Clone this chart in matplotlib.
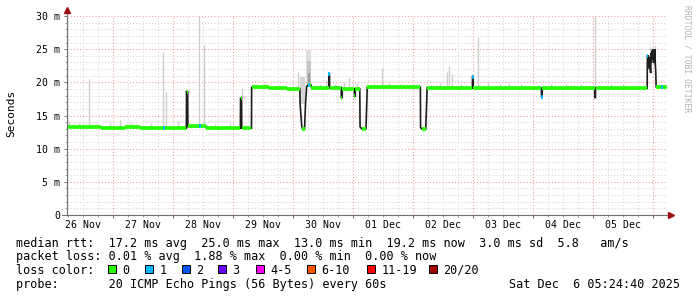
import numpy as np
import matplotlib
matplotlib.use("Agg")
import matplotlib.pyplot as plt
from matplotlib.collections import LineCollection
from matplotlib.patches import Rectangle

W, H = 697, 297
MONO = 'DejaVu Sans Mono'

# time axis: days since 26 Nov 00:00, graph covers 10 days ending Sat Dec 6 05:24:40
T0, T1 = 0.2255, 10.2255

day_labels = ['26 Nov', '27 Nov', '28 Nov', '29 Nov', '30 Nov',
              '01 Dec', '02 Dec', '03 Dec', '04 Dec', '05 Dec']
y_ticks = [0, 5, 10, 15, 20, 25, 30]
y_tick_labels = ['0', '5 m', '10 m', '15 m', '20 m', '25 m', '30 m']

# median rtt in ms (breakpoints)
med_t = [0.2255, 0.80, 0.80, 1.20, 1.20, 1.45, 1.45, 2.215, 2.218, 2.236, 2.240,
         2.55, 2.55, 3.115, 3.118, 3.135, 3.138, 3.30, 3.303, 3.60, 3.60, 3.90,
         3.90, 4.105, 4.110, 4.137, 4.150, 4.185, 4.200, 4.220, 4.247, 4.292,
         4.300, 4.588, 4.590, 4.600, 4.602, 4.795, 4.797, 4.812, 4.815, 5.015,
         5.017, 5.030, 5.032, 5.105, 5.110, 5.136, 5.208, 5.230, 6.115, 6.118,
         6.134, 6.205, 6.228, 6.982, 6.984, 6.995, 6.997, 8.132, 8.134, 8.145,
         8.147, 9.020, 9.022, 9.033, 9.035, 9.895, 9.897, 9.902, 9.908, 9.914,
         9.920, 9.927, 9.934, 9.940, 9.947, 9.954, 9.960, 9.966, 9.972, 9.978,
         9.985, 9.992, 9.998, 10.005, 10.012, 10.018, 10.025, 10.031, 10.037,
         10.045, 10.2255]
med_v = [13.3, 13.3, 13.1, 13.1, 13.25, 13.25, 13.1, 13.1, 18.6, 18.6, 13.35,
         13.35, 13.1, 13.1, 17.6, 17.6, 13.1, 13.1, 19.25, 19.25, 19.1, 19.1,
         19.0, 19.0, 16.8, 13.5, 13.0, 13.0, 16.6, 19.4, 19.6, 19.6,
         19.2, 19.2, 21.3, 21.3, 19.2, 19.2, 17.7, 17.7, 19.0, 19.0,
         17.9, 17.9, 19.0, 19.0, 13.3, 13.0, 13.0, 19.25, 19.25, 13.2,
         13.0, 13.0, 19.2, 19.2, 20.85, 20.85, 19.1, 19.1, 17.9, 17.9,
         19.1, 19.1, 17.7, 17.7, 19.1, 19.1, 22.5, 24.1, 22.8, 24.0,
         22.3, 23.8, 22.0, 23.5, 21.8, 21.4, 24.4, 23.0, 24.7, 23.4,
         25.0, 23.6, 24.8, 22.9, 24.6, 23.2, 25.0, 22.6, 21.8,
         19.3, 19.3]

# light smoke: (time, low, high) in ms
smoke_t = [0.264, 0.42, 0.597, 0.95, 1.108, 1.30, 1.62, 1.83, 1.876, 2.08, 2.43,
           2.512, 2.70, 2.95, 3.14, 3.40, 3.55, 3.75, 4.07, 4.45, 4.54, 4.70,
           4.843, 4.926, 5.065, 5.35, 5.47, 5.60, 5.80, 6.00, 6.28, 6.45, 6.56,
           6.60, 6.65, 6.80, 7.077, 7.25, 7.45, 7.60, 7.80, 8.30, 8.55, 8.80,
           9.0255, 9.30, 9.50, 9.94, 10.00, 10.03, 10.10]
smoke_lo = [13.3, 13.3, 13.3, 13.1, 13.1, 13.25, 13.1, 13.1, 13.1, 13.1, 13.35,
            13.35, 13.1, 13.1, 17.6, 19.25, 19.25, 19.1, 19.0, 19.2, 19.2, 19.2,
            19.0, 19.0, 19.0, 19.25, 19.25, 19.25, 19.25, 19.25, 19.2, 19.2, 19.2,
            19.2, 19.2, 19.2, 19.1, 19.1, 19.1, 19.1, 19.1, 19.1, 19.1, 19.1,
            19.1, 19.1, 19.1, 24.0, 24.5, 24.5, 19.3]
smoke_hi = [14.2, 13.9, 20.5, 13.8, 14.3, 13.9, 13.8, 24.6, 18.6, 14.2, 30.0,
            25.6, 13.7, 13.8, 19.1, 19.7, 19.8, 19.6, 21.6, 19.8, 20.35, 19.8,
            20.1, 20.6, 19.85, 19.8, 22.1, 19.9, 19.7, 19.8, 19.6, 19.9, 21.6,
            22.4, 21.2, 19.8, 26.9, 20.1, 19.8, 19.9, 19.7, 19.7, 19.8, 19.7,
            30.0, 19.7, 19.8, 25.4, 25.4, 25.5, 19.7]

# denser smoke blocks: (start, end, low, high, shade)
dsmoke_t0 = [4.105, 4.215, 4.225, 4.235, 9.676]
dsmoke_t1 = [4.195, 4.300, 4.290, 4.280, 9.682]
dsmoke_lo = [16.8, 19.6, 19.6, 19.6, 19.1]
dsmoke_hi = [20.85, 24.9, 23.2, 21.4, 22.4]
dsmoke_shade = ['#d4d4d4', '#dedede', '#c6c6c6', '#9c9c9c', '#505050']

# samples with 1/20 loss
loss1_t = [1.84, 2.44, 4.25, 4.27, 4.59, 6.99, 8.14, 9.90, 10.14]
loss1_v = [13.1, 13.4, 19.6, 19.6, 21.2, 20.8, 17.8, 23.9, 19.3]

loss_labels = ['0', '1', '2', '3', '4-5', '6-10', '11-19', '20/20']
loss_colors = ['#26ff00', '#00b8ff', '#0059ff', '#6a00ff', '#ff00ff',
               '#ff5500', '#ff0000', '#a10000']

stats_lines = [
    'median rtt:  17.2 ms avg  25.0 ms max  13.0 ms min  19.2 ms now  3.0 ms sd  5.8   am/s',
    'packet loss: 0.01 % avg  1.88 % max  0.00 % min  0.00 % now',
]
probe_text = 'probe:       20 ICMP Echo Pings (56 Bytes) every 60s'
stamp_text = 'Sat Dec  6 05:24:40 2025'


def draw_grid(ax):
    for y in range(1, 31):
        major = y % 5 == 0
        ax.axhline(y, color='#f09a9a' if major else '#d6d6d6', lw=0.75,
                   ls=(0, (1, 2)), zorder=0)
    for x in np.arange(0.25, T1, 0.25):
        if x < T0:
            continue
        major = abs(x - round(x)) < 1e-9
        ax.axvline(x, color='#f09a9a' if major else '#d6d6d6', lw=0.75,
                   ls=(0, (1, 2)), zorder=0)


def draw_data(ax):
    for t, lo, hi in zip(smoke_t, smoke_lo, smoke_hi):
        ax.vlines(t, lo, hi, color='#cdcdcd', lw=0.95, zorder=1)
    for a, b, lo, hi, c in zip(dsmoke_t0, dsmoke_t1, dsmoke_lo, dsmoke_hi, dsmoke_shade):
        ax.fill_between([a, b], lo, hi, color=c, lw=0, zorder=1)

    ax.plot(med_t, med_v, color='#1e1e1e', lw=1.2, zorder=2, solid_joinstyle='miter')
    flat = [[(med_t[i], med_v[i]), (med_t[i + 1], med_v[i + 1])]
            for i in range(len(med_t) - 1) if med_v[i] == med_v[i + 1]]
    ax.add_collection(LineCollection(flat, colors=loss_colors[0], lw=2.7,
                                     capstyle='butt', zorder=3))
    for t, v in zip(loss1_t, loss1_v):
        ax.hlines(v, t - 0.012, t + 0.012, color=loss_colors[1], lw=2.7, zorder=4)


def draw_axes(ax):
    for s in ax.spines.values():
        s.set_visible(False)
    ax.set_yticks(y_ticks)
    ax.set_yticklabels(y_tick_labels, family=MONO, fontsize=7.1)
    ax.set_yticks(range(0, 31), minor=True)
    ax.set_xticks(range(1, 11))
    ax.set_xticklabels([])
    ax.set_xticks(np.arange(0.25, 10.25, 0.25), minor=True)
    ax.tick_params(which='major', length=2.2, width=0.7, color='#707070', pad=2.9)
    ax.tick_params(which='minor', length=1.2, width=0.7, color='#a0a0a0')
    ax.set_xlim(T0, T1)
    ax.set_ylim(0, 30)

    for i, lab in enumerate(day_labels):
        ax.annotate(lab, xy=(i + 0.5, 0), xycoords=('data', 'data'),
                    xytext=(0, -13.3 * 0.72), textcoords='offset points',
                    ha='center', va='baseline', family=MONO, fontsize=7.1,
                    annotation_clip=False)

    # axis lines with arrow heads
    ax.plot([T0, T0], [0, 30.9], color='#707070', lw=0.8, clip_on=False, zorder=5)
    ax.plot([T0 - 0.08, 10.29], [0, 0], color='#707070', lw=0.8, clip_on=False, zorder=5)
    ax.plot([T0], [30.95], marker='^', ms=4, color='#a01010', clip_on=False, zorder=6)
    ax.plot([10.29], [0], marker='>', ms=4, color='#a01010', clip_on=False, zorder=6)


def draw_legend(fig):
    def ftext(x, y, s, **kw):
        fig.text(x / W, 1 - y / H, s, family=MONO, fontsize=8.5,
                 va='baseline', ha=kw.pop('ha', 'left'), **kw)

    ftext(16, 246.5, stats_lines[0])
    ftext(16, 260.3, stats_lines[1])
    ftext(16, 273.8, 'loss color:')
    box_x = [108, 145, 182, 218, 256, 307, 367, 429]
    for x, lab, c in zip(box_x, loss_labels, loss_colors):
        fig.add_artist(Rectangle((x / W, 1 - 273 / H), 8 / W, 8 / H,
                                 transform=fig.transFigure, facecolor=c,
                                 edgecolor='black', lw=0.7))
        ftext(x + 14.5, 273.8, lab)
    ftext(16, 288, probe_text)
    ftext(680, 288, stamp_text, ha='right')

    fig.text(10.8 / W, 1 - 113.5 / H, 'Seconds', rotation=90, family=MONO,
             fontsize=8, ha='center', va='center')
    fig.text(686.7 / W, 1 - 5 / H, 'RRDTOOL / TOBI OETIKER', rotation=270,
             family=MONO, fontsize=5.8, color='#b4b4b4', ha='center', va='top')


def main():
    fig = plt.figure(figsize=(W / 100, H / 100), dpi=100)
    fig.patch.set_facecolor('white')
    ax = fig.add_axes([67 / W, 1 - 215 / H, 600 / W, 199 / H])
    draw_grid(ax)
    draw_data(ax)
    draw_axes(ax)
    draw_legend(fig)
    fig.savefig('out.png', dpi=100)


if __name__ == '__main__':
    main()
